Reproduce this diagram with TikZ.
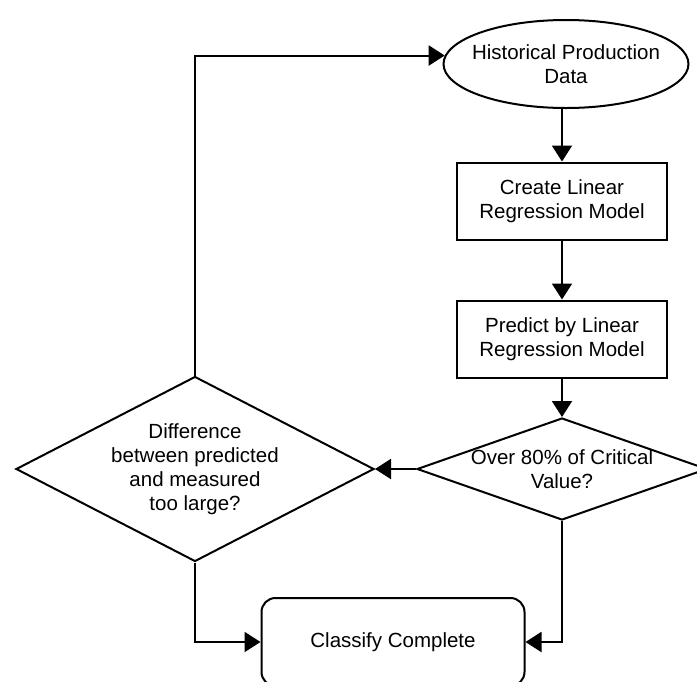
\documentclass[tikz,border=0pt]{standalone}
\usepackage{fontspec}
\setmainfont{Liberation Sans}
\usetikzlibrary{shapes.geometric,arrows.meta}
\begin{document}
\begin{tikzpicture}[
    x=1pt, y=-1pt,
    font=\fontsize{20.5}{24}\selectfont,
    inside/.style={label={[align=center]center:#1}},
    data/.style={draw, ellipse, line width=2pt, minimum width=245pt, minimum height=88pt},
    proc/.style={draw, rectangle, line width=2pt, minimum width=210pt, minimum height=77pt, align=center},
    test/.style={draw, diamond, line width=2pt},
    term/.style={draw, rectangle, rounded corners=14pt, line width=2pt, minimum width=263pt, minimum height=88pt, align=center},
    flow/.style={line width=2pt, -{Triangle[length=16pt,width=20pt]}}
]
\useasboundingbox (0,0) rectangle (697,681);

% right column
\node[data, inside={Historical Production\\Data}] (hist) at (566,64) {};
\node[proc] (linreg) at (562,201) {Create Linear\\Regression Model};
\node[proc] (predict) at (562,339) {Predict by Linear\\Regression Model};
\node[test, minimum width=290pt, minimum height=102pt, inside={Over 80\% of Critical\\Value?}] (over) at (562,469) {};

% left decision and end
\node[test, minimum width=358pt, minimum height=185pt, inside={Difference\\between predicted\\and measured\\too large?}] (diff) at (195,469) {};
\node[term] (done) at (393,642) {Classify Complete};

% connectors
\draw[flow] (hist.south -| linreg.north) -- (linreg.north);
\draw[flow] (linreg) -- (predict);
\draw[flow] (predict) -- (over);
\draw[flow] (over) -- (diff);
\draw[flow] (diff.north) |- (hist.176);
\draw[flow] (diff.south) |- (done.west);
\draw[flow] (over.south) |- (done.east);
\end{tikzpicture}
\end{document}
